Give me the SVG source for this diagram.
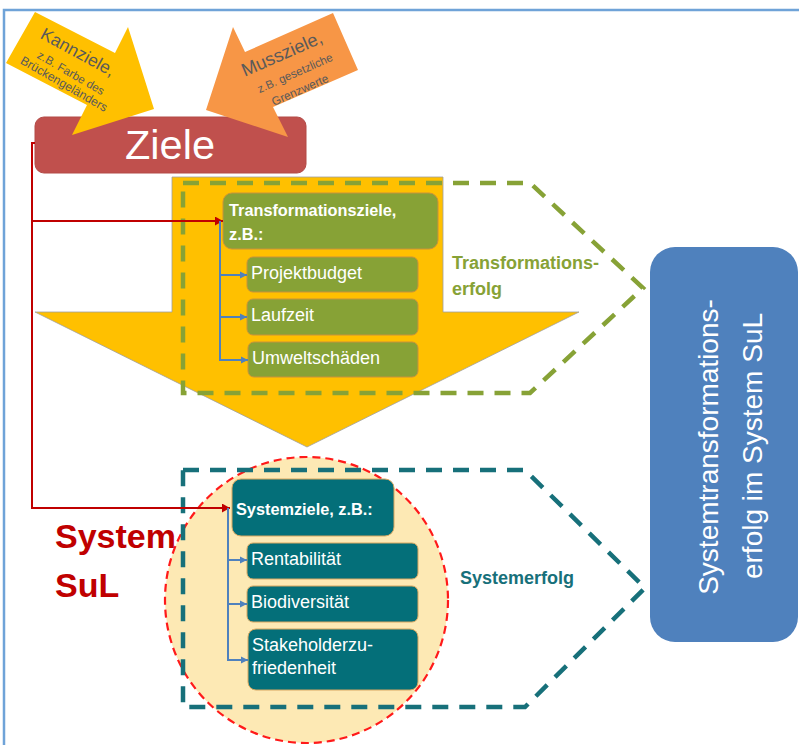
<svg xmlns="http://www.w3.org/2000/svg" width="799" height="745" viewBox="0 0 799 745">
<style>
.sans{font-family:"Liberation Sans",Arial,sans-serif}
.box-g{fill:#87a236;stroke:#c8923a;stroke-width:1}
.box-t{fill:#046f79;stroke:#d9a760;stroke-width:1}
.wt{fill:#ffffff;font-family:"Liberation Sans",Arial,sans-serif;font-size:18px}
.wb{fill:#ffffff;font-family:"Liberation Sans",Arial,sans-serif;font-size:16.3px;font-weight:bold}
.gray{fill:#5a5a5a;font-family:"Liberation Sans",Arial,sans-serif;text-anchor:middle}
.red{stroke:#c00000;stroke-width:2;fill:none}
.blue{stroke:#4f81bd;stroke-width:2;fill:none}
</style>
<defs>
<marker id="ar" markerUnits="userSpaceOnUse" markerWidth="9" markerHeight="9" refX="8" refY="4.5" orient="auto"><path d="M0,0 L8,4.5 L0,9 Z" fill="#c00000"/></marker>
<marker id="ab" markerUnits="userSpaceOnUse" markerWidth="8" markerHeight="8" refX="7" refY="4" orient="auto"><path d="M0,0.5 L7,4 L0,7.5 Z" fill="#4f81bd"/></marker>
</defs>
<rect width="799" height="745" fill="#ffffff"/>
<!-- frame -->
<path d="M4,745 V10 H799" fill="none" stroke="#6fa3d8" stroke-width="2.5"/>

<g id="ziele">
<rect x="35" y="117" width="271" height="56" rx="9" fill="#c0504d" stroke="#b34a47" stroke-width="1"/>
<text x="170" y="159" class="sans" font-size="41.5" fill="#ffffff" text-anchor="middle">Ziele</text>
</g>

<g id="kannziele">
<polygon points="35,12 115,53 128,27 154,109 72,135 87,105 6,63" fill="#ffc000"/>
<text class="gray" font-size="17.5" transform="translate(78,52) rotate(28.5)" y="6">Kannziele,</text>
<text class="gray" font-size="11.6" transform="translate(71,73) rotate(30)" y="4">z.B. Farbe des</text>
<text class="gray" font-size="12.2" transform="translate(64,84) rotate(30)" y="4">Brückengeländers</text>
</g>

<g id="mussziele">
<polygon points="333,13 358,70 273,107 288,137 206,110 233,27 245,52" fill="#f79646"/>
<text class="gray" font-size="18.3" transform="translate(282,54) rotate(-23.5)" y="6">Mussziele,</text>
<text class="gray" font-size="11.6" transform="translate(295,73) rotate(-24)" y="4">z.B. gesetzliche</text>
<text class="gray" font-size="11.8" transform="translate(300,90) rotate(-24)" y="4">Grenzwerte</text>
</g>

<g id="transformationsphase">
<polygon points="172,177 443,177 443,312 579,312 307,447 35,312 172,312" fill="#ffc000" stroke="#a0a0a0" stroke-width="0.8"/>
<polygon points="183,183 530,183 643,288 530,393 183,393" fill="none" stroke="#87a236" stroke-width="4.5" stroke-dasharray="16,11"/>
<text x="452" y="269" class="sans" font-size="18" font-weight="bold" fill="#87a236">Transformations-</text>
<text x="452" y="295" class="sans" font-size="18" font-weight="bold" fill="#87a236">erfolg</text>
</g>

<g id="transformationsziele">
<rect x="223" y="193" width="215" height="56" rx="9" class="box-g"/>
<text x="229" y="216" class="wb">Transformationsziele,</text>
<text x="229" y="240" class="wb">z.B.:</text>
</g>
<g id="projektbudget">
<rect x="247" y="257" width="171" height="35" rx="6" class="box-g"/>
<text x="251" y="279" class="wt">Projektbudget</text>
</g>
<g id="laufzeit">
<rect x="247" y="299" width="171" height="36" rx="6" class="box-g"/>
<text x="251" y="321" class="wt">Laufzeit</text>
</g>
<g id="umweltschaeden">
<rect x="248" y="342" width="170" height="35" rx="6" class="box-g"/>
<text x="252" y="364" class="wt">Umweltschäden</text>
</g>

<g id="system-sul">
<ellipse cx="306.5" cy="600" rx="141.5" ry="143" fill="#fde9b4" stroke="#ff1a1a" stroke-width="2.2" stroke-dasharray="8,5"/>
<polygon points="183,470 525,470 645,588 525,707 183,707" fill="none" stroke="#17707a" stroke-width="4.5" stroke-dasharray="16,11"/>
<text x="55" y="548" class="sans" font-size="34" font-weight="bold" fill="#c00000">System</text>
<text x="55" y="597" class="sans" font-size="34" font-weight="bold" fill="#c00000">SuL</text>
<text x="460" y="584" class="sans" font-size="18" font-weight="bold" fill="#17707a">Systemerfolg</text>
</g>

<g id="systemziele">
<rect x="232" y="479" width="162" height="57" rx="9" class="box-t"/>
<text x="236" y="515" class="wb">Systemziele, z.B.:</text>
</g>
<g id="rentabilitaet">
<rect x="247" y="543" width="171" height="36" rx="6" class="box-t"/>
<text x="251" y="565" class="wt">Rentabilität</text>
</g>
<g id="biodiversitaet">
<rect x="247" y="586" width="171" height="36" rx="6" class="box-t"/>
<text x="251" y="608" class="wt">Biodiversität</text>
</g>
<g id="stakeholder">
<rect x="248" y="629" width="170" height="61" rx="8" class="box-t"/>
<text x="252" y="651" class="wt">Stakeholderzu-</text>
<text x="252" y="674" class="wt">friedenheit</text>
</g>

<g id="systemtransformationserfolg">
<rect x="650" y="247" width="148" height="395" rx="25" fill="#4f81bd"/>
<text class="sans" font-size="28" fill="#ffffff" text-anchor="middle" transform="translate(718,447) rotate(-90)">Systemtransformations-</text>
<text class="sans" font-size="28" fill="#ffffff" text-anchor="middle" transform="translate(762,446) rotate(-90)">erfolg im System SuL</text>
</g>

<g id="connectors">
<path class="red" d="M35,143 H32 V508 H230" marker-end="url(#ar)"/>
<path class="red" d="M32,221 H223" marker-end="url(#ar)"/>
<path class="blue" d="M220,221 V360"/>
<path class="blue" d="M220,275 H247" marker-end="url(#ab)"/>
<path class="blue" d="M220,317 H247" marker-end="url(#ab)"/>
<path class="blue" d="M219,360 H248" marker-end="url(#ab)"/>
<path class="blue" d="M228,508 V660"/>
<path class="blue" d="M228,560 H247" marker-end="url(#ab)"/>
<path class="blue" d="M228,604 H247" marker-end="url(#ab)"/>
<path class="blue" d="M227,660 H248" marker-end="url(#ab)"/>
</g>
</svg>
